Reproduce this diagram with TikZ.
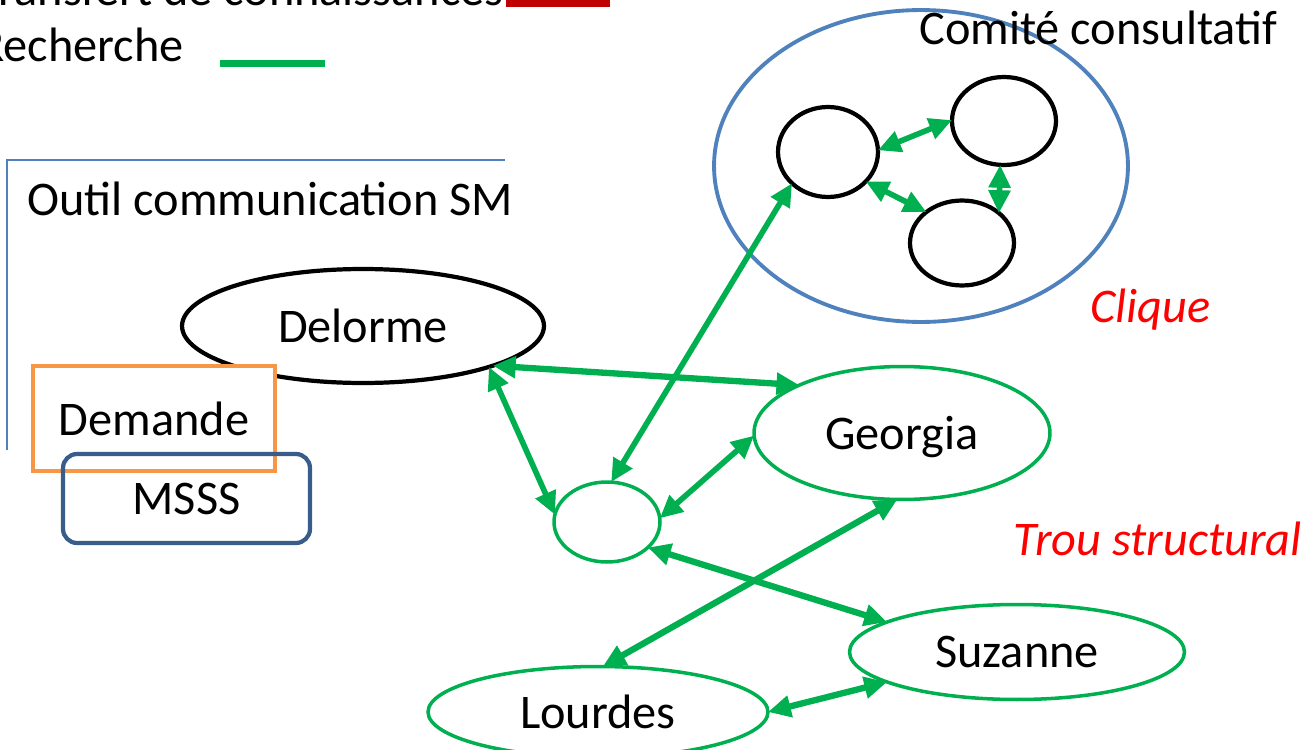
\documentclass[tikz,border=0pt]{standalone}
\usepackage{fontspec}
\setmainfont{Carlito}
\usetikzlibrary{arrows.meta,shapes.geometric}
\definecolor{grn}{HTML}{00B050}
\definecolor{frameblue}{HTML}{4F81BD}
\definecolor{orng}{HTML}{F79646}
\definecolor{msss}{HTML}{385D8A}
\definecolor{darkred}{HTML}{C00000}
\tikzset{
  lbl/.style={font=\fontsize{27.5}{32}\selectfont, inner sep=0pt},
  redlbl/.style={font=\fontsize{27.5}{32}\selectfont\itshape, text=red, inner sep=0pt},
  person/.style={ellipse, draw=grn, line width=2pt, inner sep=0pt, outer sep=0pt, font=\fontsize{27.5}{32}\selectfont, text depth=0pt},
  member/.style={ellipse, draw=black, line width=2.4pt, inner sep=0pt, outer sep=0pt},
  link/.style={draw=grn, line width=3.2pt, {Triangle[length=13pt,width=12pt]}-{Triangle[length=13pt,width=12pt]}},
}
\begin{document}
\begin{tikzpicture}[x=0.02cm,y=-0.02cm]
\useasboundingbox (0,0) rectangle (1306,750);
\clip (0,0) rectangle (1306,750);
% legend
\node[lbl, anchor=base east] (tr) at (504,6) {Transfert de connaissances};
\fill[darkred] (506,-5) rectangle (610,7);
\node[lbl, anchor=base east] (rech) at (184,62) {Recherche};
\fill[grn] (220,60) rectangle (325,67);
% frame
\draw[frameblue, line width=0.9pt] (7,450) -- (7,160) -- (505,160);
\node[lbl, anchor=base west] (outil) at (27,215) {Outil communication SM};
% Delorme
\node[ellipse, draw=black, line width=2.4pt, fill=white, inner sep=0pt, outer sep=0pt, minimum width=7.24cm, minimum height=2.28cm, font=\fontsize{27.5}{32}\selectfont, text depth=0pt] (delorme) at (363,326) {Delorme};
% Demande / MSSS
\node[rectangle, draw=orng, line width=2.4pt, fill=white, minimum width=4.84cm, minimum height=2.1cm, inner sep=0pt, font=\fontsize{27.5}{32}\selectfont, text depth=0pt] (demande) at (154,418.5) {Demande};
\node[rectangle, rounded corners=8pt, draw=msss, line width=2.4pt, minimum width=4.94cm, minimum height=1.78cm, inner sep=0pt, font=\fontsize{27.5}{32}\selectfont, text depth=0pt] (msss) at (186.5,498.5) {MSSS};
% committee
\node[ellipse, draw=frameblue, line width=2.2pt, minimum width=8.28cm, minimum height=6.24cm, inner sep=0pt] (comite) at (921,166) {};
\node[lbl, anchor=base west] (comitelbl) at (919,45) {Comité consultatif};
\node[member, minimum width=2cm, minimum height=1.8cm] (ca) at (828,152) {};
\node[member, minimum width=2.08cm, minimum height=1.76cm] (cb) at (1004,121) {};
\node[member, minimum width=2.08cm, minimum height=1.7cm] (cc) at (962,243) {};
\node[redlbl, anchor=base west] (clique) at (1090,322) {Clique};
% people
\node[person, minimum width=2.12cm, minimum height=1.6cm] (sc) at (607,522) {};
\node[person, minimum width=5.92cm, minimum height=2.66cm] (georgia) at (902,433) {Georgia};
\node[person, minimum width=6.7cm, minimum height=1.9cm] (suzanne) at (1017,652) {Suzanne};
\node[person, minimum width=6.8cm, minimum height=1.82cm] (lourdes) at (598,712) {Lourdes};
\node[redlbl, anchor=base east] (trou) at (1302,555) {Trou structural};
% links
\draw[link, line width=3.6pt] (delorme.-17) -- (georgia.155);
\draw[link] (delorme.-18) -- (sc.172);
\draw[link] (ca.-139) -- (sc.84);
\draw[link] (sc.4) -- (georgia.181);
\draw[link, line width=3.6pt] (sc.-32) -- (suzanne.167);
\draw[link, line width=3.6pt] (georgia.-94) -- (lourdes.84);
\draw[link, line width=3.6pt] (lourdes.0) -- (suzanne.193);
\draw[link] (ca.2) -- (cb.179);
\draw[link] (ca.-38) -- (cc.139);
\draw[link] (cb.-95) -- (cc.39);
\end{tikzpicture}
\end{document}
